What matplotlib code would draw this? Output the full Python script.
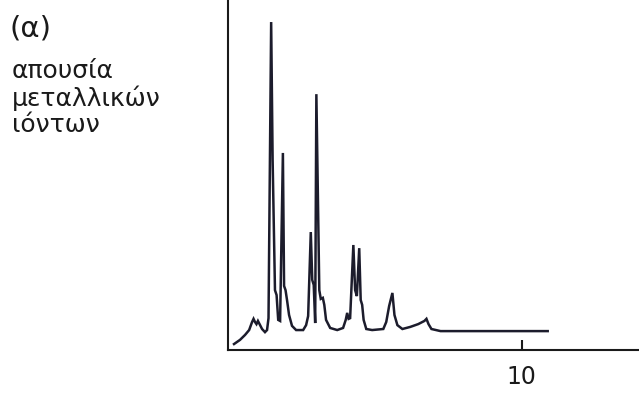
import matplotlib.pyplot as plt

# chromatogram trace (time, detector signal)
time = [0.205, 0.41, 0.58, 0.72, 0.82, 0.87, 0.92, 0.97, 1.02, 1.075,
        1.16, 1.26, 1.33, 1.38, 1.47, 1.52, 1.60, 1.655, 1.71, 1.775,
        1.87, 1.91, 1.96, 2.01, 2.08, 2.18, 2.32, 2.56, 2.66, 2.73,
        2.82, 2.87, 2.92, 2.97, 3.01, 3.11, 3.16, 3.23, 3.28, 3.34,
        3.48, 3.72, 3.92, 4.01, 4.06, 4.11, 4.16, 4.27, 4.33, 4.39,
        4.47, 4.52, 4.57, 4.62, 4.71, 4.91, 5.29, 5.39, 5.49, 5.60,
        5.67, 5.77, 5.94, 6.21, 6.48, 6.69, 6.76, 6.83, 6.93, 7.24,
        10.89]
signal = [1.7, 2.9, 4.3, 5.7, 8.0, 8.9, 8.0, 7.4, 8.3, 7.4,
          6.0, 5.1, 5.7, 9.1, 93.7, 54.3, 17.1, 15.7, 8.6, 8.3,
          56.3, 18.3, 17.1, 14.3, 10.0, 6.9, 5.7, 5.7, 7.1, 9.7,
          33.7, 20.0, 18.6, 7.7, 73.1, 17.1, 14.6, 14.9, 12.9, 8.6,
          6.3, 5.7, 6.3, 8.6, 10.6, 8.9, 9.1, 30.0, 17.1, 15.4,
          29.1, 14.3, 12.9, 8.6, 6.0, 5.7, 6.0, 8.0, 12.6, 16.3,
          10.0, 7.1, 6.0, 6.6, 7.4, 8.3, 8.9, 7.4, 6.0, 5.4,
          5.4]

xticks = [10]
xticklabels = ["10"]
panel_label = "(α)"
condition = "απουσία\nμεταλλικών\nιόντων"

fig = plt.figure(figsize=(6.39, 4.01), dpi=100)
ax = fig.add_axes([228 / 639, 51 / 401, 1 - 228 / 639, 350 / 401])

ax.plot(time, signal, color="#1c1c2c", lw=1.8, solid_joinstyle="miter")

ax.set_xlim(0, 14)
ax.set_ylim(0, 100)
ax.spines["top"].set_visible(False)
ax.spines["right"].set_visible(False)
for s in ("left", "bottom"):
    ax.spines[s].set_linewidth(1.5)
    ax.spines[s].set_color("#1a1a1a")

ax.set_yticks([])
ax.set_xticks(xticks)
ax.set_xticklabels(xticklabels, fontsize=17, family="DejaVu Sans", color="#1a1a1a")
ax.tick_params(axis="x", direction="in", length=7, width=1.5, pad=11, color="#1a1a1a")

fig.text(10 / 639, 1 - 29 / 401, panel_label, fontsize=21, family="DejaVu Sans",
         color="#1a1a1a", va="center", ha="left")
fig.text(12 / 639, 1 - 98 / 401, condition, fontsize=18, family="DejaVu Sans",
         color="#1a1a1a", va="center", ha="left", linespacing=1.12)

fig.savefig("out.png", dpi=100)
